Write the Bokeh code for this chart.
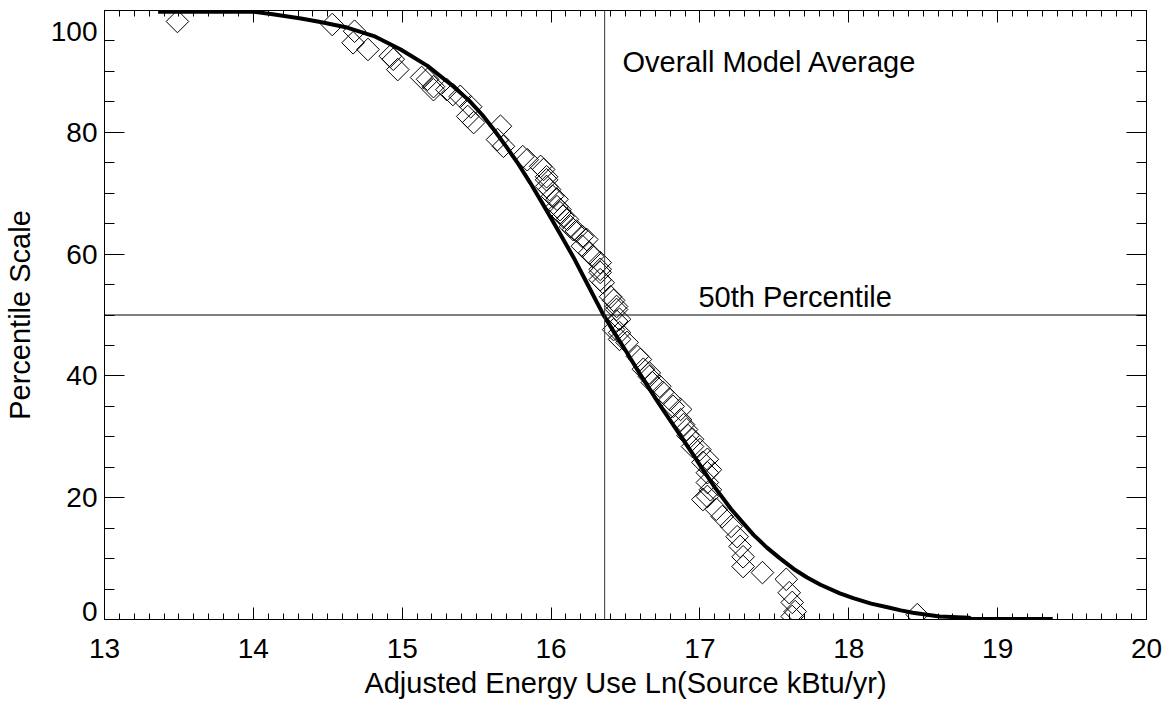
import numpy as np
from bokeh.plotting import figure
from bokeh.models import (LinearAxis, SingleIntervalTicker, Span, Label, Range1d,
                          CustomJSTickFormatter, ColumnDataSource)
from bokeh.embed import file_html
from bokeh.resources import INLINE

# ---- data ----
obs_x = [13.49, 14.53, 14.68, 14.67, 14.77, 14.92, 14.94, 14.97, 15.13, 15.17,
         15.21, 15.21, 15.30, 15.34, 15.39, 15.46, 15.44, 15.48, 15.66, 15.64,
         15.68, 15.81, 15.84, 15.93, 15.95, 15.97, 15.97, 15.97, 15.99, 16.01,
         16.04, 16.04, 16.06, 16.06, 16.08, 16.11, 16.13, 16.15, 16.17, 16.21,
         16.24, 16.21, 16.26, 16.28, 16.33, 16.33, 16.33, 16.33, 16.35, 16.40,
         16.42, 16.44, 16.44, 16.46, 16.44, 16.42, 16.46, 16.46, 16.51, 16.58,
         16.60, 16.62, 16.66, 16.66, 16.68, 16.73, 16.75, 16.80, 16.82, 16.87,
         16.87, 16.89, 16.91, 16.92, 16.95, 16.95, 17.00, 17.02, 17.05, 17.05,
         17.07, 17.05, 17.07, 17.05, 17.02, 17.11, 17.15, 17.21, 17.25, 17.27,
         17.29, 17.29, 17.42, 17.58, 17.60, 17.62, 17.64, 17.62, 18.46]
obs_y = [98.2, 97.7, 96.6, 94.7, 93.6, 92.5, 92.0, 90.3, 89.0, 88.7,
         87.5, 87.0, 87.0, 86.2, 85.9, 84.2, 82.6, 81.6, 81.0, 78.8,
         77.7, 76.0, 75.5, 74.4, 73.9, 72.7, 72.2, 71.1, 70.6, 69.5,
         69.0, 67.8, 67.3, 66.8, 66.2, 65.7, 64.5, 64.0, 63.8, 62.9,
         62.4, 61.3, 60.2, 59.6, 58.6, 57.5, 57.0, 55.8, 55.3, 53.0,
         52.4, 51.4, 50.9, 49.3, 49.0, 47.6, 47.1, 46.0, 45.5, 43.2,
         42.7, 41.1, 40.5, 39.9, 38.9, 38.3, 37.3, 36.1, 35.0, 34.5,
         32.8, 32.0, 31.2, 30.2, 29.6, 28.4, 27.9, 25.8, 26.3, 24.1,
         24.6, 22.5, 21.3, 20.2, 19.7, 18.1, 16.9, 15.3, 13.6, 12.0,
         10.3, 8.7, 7.7, 6.6, 4.4, 2.8, 1.3, 0.5, 0.8]

fit_x = [13.36, 14.00, 14.13, 14.32, 14.45, 14.63, 14.81, 14.99, 15.17, 15.34,
         15.45, 15.54, 15.62, 15.70, 15.78, 15.86, 15.95, 16.04, 16.15, 16.25,
         16.35, 16.43, 16.51, 16.60, 16.72, 16.85, 16.94, 17.02, 17.10, 17.21,
         17.36, 17.45, 17.54, 17.63, 17.72, 17.81, 17.94, 18.03, 18.15, 18.26,
         18.35, 18.43, 18.61, 18.81, 18.82, 19.37]
fit_y = [99.8, 99.8, 99.4, 98.7, 98.1, 97.2, 95.8, 93.6, 90.9, 87.6,
         85.2, 82.8, 80.3, 77.6, 74.8, 71.7, 68.0, 64.2, 59.5, 54.8,
         50.1, 46.9, 43.8, 40.2, 35.6, 30.9, 27.6, 24.6, 21.7, 18.1,
         13.9, 11.8, 10.0, 8.3, 6.9, 5.7, 4.3, 3.5, 2.6, 2.0,
         1.5, 1.1, 0.5, 0.3, 0.1, 0.1]

model_average = 16.36
median_pct = 50

x_ticks_interval = 1
y_ticks_interval = 20
y_min, y_max = 0, 100

FONT = "Liberation Sans"
TICK_FS = "28px"
TEXT_FS = "29px"

p = figure(width=1165, height=707, output_backend="svg", toolbar_location=None,
           x_range=Range1d(13, 20), y_range=Range1d(y_min, y_max),
           min_border_left=104, min_border_right=19, min_border_top=10,
           min_border_bottom=88, background_fill_color="white",
           border_fill_color="white")
p.grid.visible = False
p.outline_line_color = "black"
p.outline_line_width = 1

xt = SingleIntervalTicker(interval=x_ticks_interval, num_minor_ticks=10)
yt = SingleIntervalTicker(interval=y_ticks_interval, num_minor_ticks=4)

xa = p.xaxis[0]
xa.ticker = xt
xa.axis_label = "Adjusted Energy Use Ln(Source kBtu/yr)"
ya = p.yaxis[0]
ya.ticker = yt
ya.axis_label = "Percentile Scale"
# the end labels sit slightly inside the box, as in the reference
ya.major_label_overrides = {y_max: "\n" + str(y_max), y_min: str(y_min) + "\n"}
ya.major_label_text_line_height = 0.5

for ax, tin, mtin in ((xa, 12, 6), (ya, 20, 10)):
    ax.major_tick_in = tin
    ax.major_tick_out = 0
    ax.minor_tick_in = mtin
    ax.minor_tick_out = 0
    ax.axis_line_color = "black"
    ax.major_tick_line_color = "black"
    ax.minor_tick_line_color = "black"
    ax.major_label_text_font = FONT
    ax.major_label_text_font_size = TICK_FS
    ax.major_label_text_color = "black"
    ax.axis_label_text_font = FONT
    ax.axis_label_text_font_size = TEXT_FS
    ax.axis_label_text_font_style = "normal"
    ax.axis_label_text_color = "black"

xa.major_label_standoff = 19
xa.axis_label_standoff = 6
ya.major_label_standoff = 7
ya.axis_label_standoff = 12

top = LinearAxis(ticker=SingleIntervalTicker(interval=x_ticks_interval, num_minor_ticks=10),
                 formatter=CustomJSTickFormatter(code="return ''"),
                 major_tick_in=12, major_tick_out=0,
                 minor_tick_in=6, minor_tick_out=0, major_label_standoff=0,
                 major_label_text_font_size="0px", axis_label_standoff=0)
right = LinearAxis(ticker=SingleIntervalTicker(interval=y_ticks_interval, num_minor_ticks=4),
                   formatter=CustomJSTickFormatter(code="return ''"),
                   major_tick_in=20, major_tick_out=0,
                   minor_tick_in=10, minor_tick_out=0, major_label_standoff=0,
                   major_label_text_font_size="0px", axis_label_standoff=0)
for ax in (top, right):
    ax.axis_line_color = "black"
    ax.major_tick_line_color = "black"
    ax.minor_tick_line_color = "black"
p.add_layout(top, "above")
p.add_layout(right, "right")

src_obs = ColumnDataSource(data=dict(x=obs_x, y=obs_y))
p.scatter("x", "y", source=src_obs, marker="square", size=16, angle=np.pi / 4,
          fill_color=None, line_color="black", line_width=1)

src_fit = ColumnDataSource(data=dict(x=fit_x, y=fit_y))
p.line("x", "y", source=src_fit, line_width=4, line_color="black")

p.add_layout(Span(location=model_average, dimension="height",
                  line_color="#333333", line_width=1))
p.add_layout(Span(location=median_pct, dimension="width",
                  line_color="black", line_width=1))

p.add_layout(Label(x=16.48, y=91.5, text="Overall Model Average",
                   text_font=FONT, text_font_size=TEXT_FS, text_color="black",
                   text_baseline="middle"))
p.add_layout(Label(x=16.99, y=52.9, text="50th Percentile",
                   text_font=FONT, text_font_size=TEXT_FS, text_color="black",
                   text_baseline="middle"))

open("out.html", "w").write(file_html(p, INLINE))
